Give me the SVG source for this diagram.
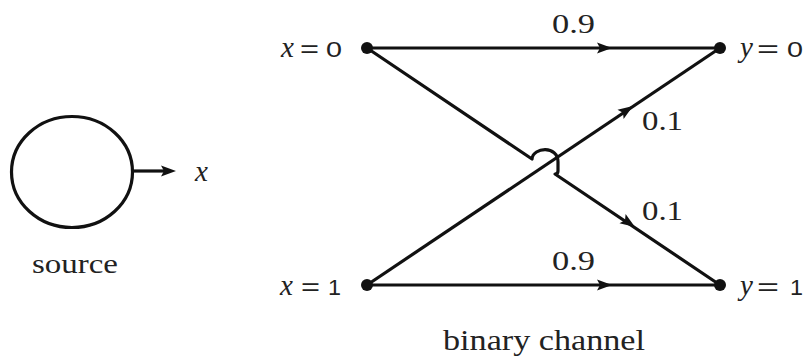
<svg xmlns="http://www.w3.org/2000/svg" width="807" height="361" viewBox="0 0 807 361">
<style>
.ln{fill:none;stroke:#111;stroke-width:3.2;stroke-linejoin:round}
.dot{fill:#111}
.ar{fill:none;stroke:none}
.sf{font-family:"Liberation Serif","Times New Roman","DejaVu Serif",serif;fill:#222}
.it{font-family:"Liberation Serif","Times New Roman","DejaVu Serif",serif;font-style:italic;fill:#222}
.ss{font-family:"Liberation Sans",Arial,"DejaVu Sans",sans-serif;fill:#222}
</style>
<defs>
<marker id="ah" markerUnits="userSpaceOnUse" markerWidth="20" markerHeight="14" viewBox="-16 -7 17 14" refX="0" refY="0" orient="auto">
<path d="M0,0 L-15,-5.5 L-12,0 L-15,5.5 Z" fill="#111"/>
</marker>
</defs>
<rect width="807" height="361" fill="#fff"/>
<g id="connectors">
<path class="ln" d="M367,48 L720,48"/>
<path class="ln" d="M367,285 L720,285"/>
<path class="ln" d="M367,285 L720,48"/>
<path class="ln" d="M367,48 L532,159 C533,147 558,145 558,162 L558,171 Q558,174 555,174 L720,285"/>
<path class="ar" d="M600,48 L612,48" marker-end="url(#ah)"/>
<path class="ar" d="M600,285 L612,285" marker-end="url(#ah)"/>
<path class="ar" d="M620,114.7 L633,106" marker-end="url(#ah)"/>
<path class="ar" d="M622,218.3 L635,227" marker-end="url(#ah)"/>
<path class="ln" d="M133,171 L165,171"/>
<path class="ar" d="M160,171 L176,171" marker-end="url(#ah)"/>
</g>
<g id="source">
<ellipse cx="72" cy="172" rx="60.5" ry="55.5" fill="none" stroke="#111" stroke-width="3.2"/>
<text class="it" x="195" y="181" font-size="29">x</text>
<text class="sf" x="32" y="273" font-size="28" textLength="86" lengthAdjust="spacingAndGlyphs">source</text>
</g>
<g id="x0">
<circle class="dot" cx="367" cy="48" r="6"/>
<text class="it" x="281" y="57" font-size="29">x</text>
<text class="ss" x="300" y="57" font-size="24" textLength="19" lengthAdjust="spacingAndGlyphs">=</text>
<text class="ss" x="326" y="57" font-size="22" textLength="16" lengthAdjust="spacingAndGlyphs">0</text>
</g>
<g id="x1">
<circle class="dot" cx="367" cy="285" r="6"/>
<text class="it" x="280" y="295" font-size="29">x</text>
<text class="ss" x="301" y="295" font-size="24" textLength="19" lengthAdjust="spacingAndGlyphs">=</text>
<text class="ss" x="328" y="295" font-size="22" textLength="13" lengthAdjust="spacingAndGlyphs">1</text>
</g>
<g id="y0">
<circle class="dot" cx="720" cy="48" r="6"/>
<text class="it" x="740" y="57" font-size="29">y</text>
<text class="ss" x="757" y="57" font-size="24" textLength="22" lengthAdjust="spacingAndGlyphs">=</text>
<text class="ss" x="787" y="57" font-size="22" textLength="16" lengthAdjust="spacingAndGlyphs">0</text>
</g>
<g id="y1">
<circle class="dot" cx="720" cy="285" r="6"/>
<text class="it" x="740" y="295" font-size="29">y</text>
<text class="ss" x="757" y="295" font-size="24" textLength="22" lengthAdjust="spacingAndGlyphs">=</text>
<text class="ss" x="790" y="295" font-size="22" textLength="13" lengthAdjust="spacingAndGlyphs">1</text>
</g>
<g id="labels">
<text class="sf" x="552" y="33" font-size="27" textLength="43" lengthAdjust="spacingAndGlyphs">0.9</text>
<text class="sf" x="552" y="270" font-size="27" textLength="43" lengthAdjust="spacingAndGlyphs">0.9</text>
<text class="sf" x="642" y="130" font-size="28" textLength="41" lengthAdjust="spacingAndGlyphs">0.1</text>
<text class="sf" x="642" y="220" font-size="28" textLength="41" lengthAdjust="spacingAndGlyphs">0.1</text>
<text class="sf" x="443" y="350" font-size="29" textLength="202" lengthAdjust="spacingAndGlyphs">binary channel</text>
</g>
</svg>
